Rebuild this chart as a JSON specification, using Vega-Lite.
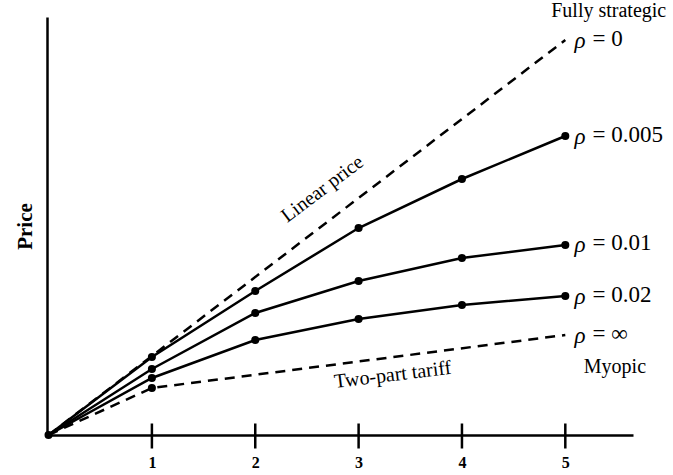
{
  "$schema": "https://vega.github.io/schema/vega-lite/v6.json",
  "width": 586,
  "height": 418,
  "autosize": {"type": "none"},
  "padding": {"left": 47, "top": 17, "right": 40, "bottom": 40},
  "background": "white",
  "config": {"view": {"stroke": null}},
  "datasets": {
    "curves": [
      {"k": 0, "price": 0, "rho": "0", "style": "dashed", "dot": false},
      {"k": 5, "price": 3.95, "rho": "0", "style": "dashed", "dot": false},
      {"k": 0, "price": 0, "rho": "0.005", "style": "solid", "dot": true},
      {"k": 1, "price": 0.78, "rho": "0.005", "style": "solid", "dot": true},
      {"k": 2, "price": 1.44, "rho": "0.005", "style": "solid", "dot": true},
      {"k": 3, "price": 2.07, "rho": "0.005", "style": "solid", "dot": true},
      {"k": 4, "price": 2.56, "rho": "0.005", "style": "solid", "dot": true},
      {"k": 5, "price": 2.99, "rho": "0.005", "style": "solid", "dot": true},
      {"k": 0, "price": 0, "rho": "0.01", "style": "solid", "dot": false},
      {"k": 1, "price": 0.66, "rho": "0.01", "style": "solid", "dot": true},
      {"k": 2, "price": 1.22, "rho": "0.01", "style": "solid", "dot": true},
      {"k": 3, "price": 1.54, "rho": "0.01", "style": "solid", "dot": true},
      {"k": 4, "price": 1.77, "rho": "0.01", "style": "solid", "dot": true},
      {"k": 5, "price": 1.9, "rho": "0.01", "style": "solid", "dot": true},
      {"k": 0, "price": 0, "rho": "0.02", "style": "solid", "dot": false},
      {"k": 1, "price": 0.57, "rho": "0.02", "style": "solid", "dot": true},
      {"k": 2, "price": 0.95, "rho": "0.02", "style": "solid", "dot": true},
      {"k": 3, "price": 1.16, "rho": "0.02", "style": "solid", "dot": true},
      {"k": 4, "price": 1.3, "rho": "0.02", "style": "solid", "dot": true},
      {"k": 5, "price": 1.39, "rho": "0.02", "style": "solid", "dot": true},
      {"k": 0, "price": 0, "rho": "inf", "style": "dashed", "dot": false},
      {"k": 1, "price": 0.47, "rho": "inf", "style": "dashed", "dot": true},
      {"k": 5, "price": 1.0, "rho": "inf", "style": "dashed", "dot": false}
    ],
    "rholabels": [
      {"k": 5.09, "price": 3.95, "val": "= 0"},
      {"k": 5.09, "price": 2.99, "val": "= 0.005"},
      {"k": 5.09, "price": 1.91, "val": "= 0.01"},
      {"k": 5.09, "price": 1.39, "val": "= 0.02"},
      {"k": 5.09, "price": 1.0, "val": "= ∞"}
    ],
    "notes": [
      {"k": 5.42, "price": 4.24, "txt": "Fully strategic", "ang": 0},
      {"k": 5.48, "price": 0.68, "txt": "Myopic", "ang": 0},
      {"k": 2.65, "price": 2.46, "txt": "Linear price", "ang": -37},
      {"k": 3.33, "price": 0.6, "txt": "Two-part tariff", "ang": -7}
    ],
    "tickpos": [
      {"k": 1, "price": 0},
      {"k": 2, "price": 0},
      {"k": 3, "price": 0},
      {"k": 4, "price": 0},
      {"k": 5, "price": 0}
    ]
  },
  "encoding": {
    "x": {
      "field": "k",
      "type": "quantitative",
      "scale": {"domain": [-0.015, 5.655], "nice": false, "zero": false},
      "axis": {
        "title": null,
        "values": [1, 2, 3, 4, 5],
        "format": "d",
        "domainColor": "black",
        "domainWidth": 2.5,
        "ticks": false,
        "tickSize": 0,
        "grid": false,
        "labelPadding": 19,
        "labelFont": "Liberation Serif",
        "labelFontWeight": "bold",
        "labelFontSize": 16,
        "labelColor": "black"
      }
    },
    "y": {
      "field": "price",
      "type": "quantitative",
      "scale": {"domain": [0, 4.18], "nice": false},
      "axis": {
        "title": "Price",
        "titleFont": "Liberation Serif",
        "titleFontWeight": "bold",
        "titleFontSize": 21,
        "titleColor": "black",
        "titleX": -16,
        "titleBaseline": "alphabetic",
        "labels": false,
        "ticks": false,
        "grid": false,
        "domainColor": "black",
        "domainWidth": 2.5
      }
    }
  },
  "layer": [
    {
      "data": {"name": "curves"},
      "transform": [{"filter": "datum.style === 'dashed'"}],
      "mark": {"type": "line", "color": "black", "strokeWidth": 2.5, "strokeDash": [10, 7]},
      "encoding": {"detail": {"field": "rho"}}
    },
    {
      "data": {"name": "curves"},
      "transform": [{"filter": "datum.style === 'solid'"}],
      "mark": {"type": "line", "color": "black", "strokeWidth": 2.5},
      "encoding": {"detail": {"field": "rho"}}
    },
    {
      "data": {"name": "curves"},
      "transform": [{"filter": "datum.dot"}],
      "mark": {"type": "point", "filled": true, "color": "black", "opacity": 1, "size": 65}
    },
    {
      "data": {"name": "tickpos"},
      "mark": {"type": "point", "shape": "M0,-1L0,1", "filled": false, "stroke": "black", "strokeWidth": 2.5, "opacity": 1, "size": 625, "yOffset": 1}
    },
    {
      "data": {"values": [{}]},
      "mark": {"type": "point", "shape": "triangle-up", "filled": true, "color": "black", "opacity": 1, "size": 180},
      "encoding": {"x": {"datum": 0}, "y": {"datum": 4.125}}
    },
    {
      "data": {"values": [{}]},
      "mark": {"type": "point", "shape": "triangle-right", "filled": true, "color": "black", "opacity": 1, "size": 180},
      "encoding": {"x": {"datum": 5.62}, "y": {"datum": 0}}
    },
    {
      "data": {"values": [{}]},
      "mark": {"type": "text", "text": "k", "font": "Liberation Serif", "fontStyle": "italic", "fontSize": 36, "align": "center", "baseline": "middle", "color": "black"},
      "encoding": {"x": {"datum": 5.82}, "y": {"datum": -0.1}}
    },
    {
      "data": {"name": "rholabels"},
      "mark": {"type": "text", "text": "ρ", "font": "Liberation Serif", "fontStyle": "italic", "fontSize": 23, "align": "left", "baseline": "middle", "dy": 1, "color": "black"}
    },
    {
      "data": {"name": "rholabels"},
      "mark": {"type": "text", "font": "Liberation Serif", "fontSize": 23, "align": "left", "baseline": "middle", "dx": 18, "dy": -1, "color": "black"},
      "encoding": {"text": {"field": "val"}}
    },
    {
      "data": {"name": "notes"},
      "mark": {"type": "text", "font": "Liberation Serif", "fontSize": 20, "align": "center", "baseline": "middle", "color": "black"},
      "encoding": {"text": {"field": "txt"}, "angle": {"field": "ang", "type": "quantitative", "scale": null}}
    }
  ]
}
